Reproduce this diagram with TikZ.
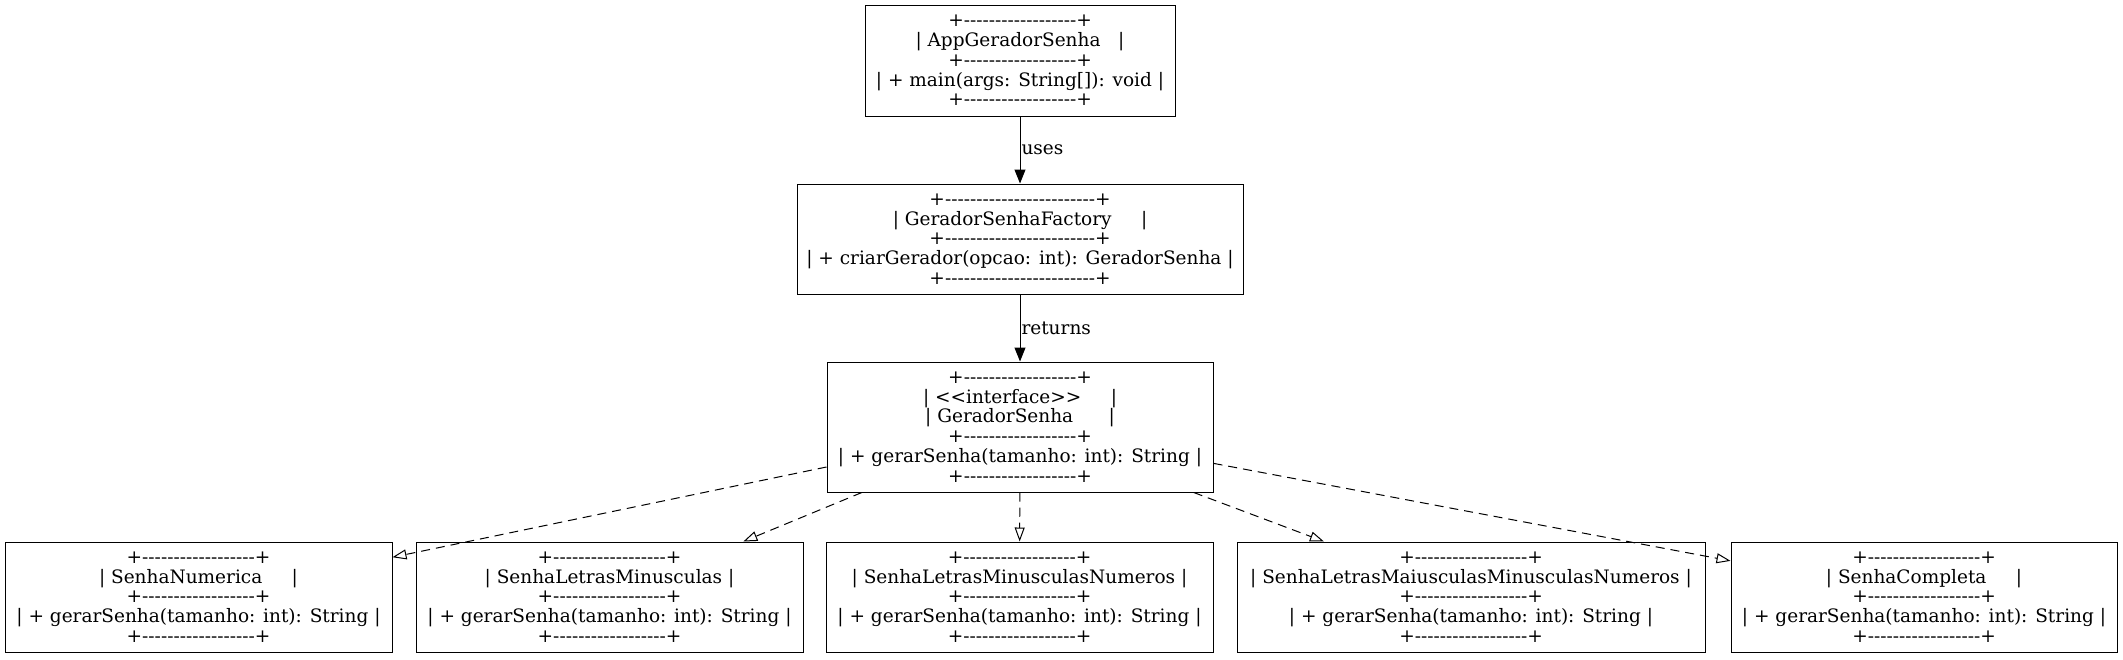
\documentclass[tikz,border=0pt]{standalone}
\usepackage{fontspec}
\setmainfont{DejaVu Serif}[Ligatures=TeXOff]
\usetikzlibrary{arrows.meta}

\begin{document}
\begin{tikzpicture}[
        x=1pt, y=-1pt,
        classbox/.style={rectangle, draw, line width=1pt, align=center, inner sep=0pt, font=\fontsize{18.5}{19.8}\selectfont},
        small/.style={minimum width=387pt, minimum height=110pt},
        uses/.style={-{Triangle[length=14pt, width=11pt]}, line width=1pt},
        realizes/.style={-{Triangle[open, length=14pt, width=10pt]}, line width=1pt, dash pattern=on 9pt off 6pt},
        label/.style={right, inner sep=1pt, font=\fontsize{18.5}{19.8}\selectfont}
    ]
    \useasboundingbox (0,0) rectangle (2123,659);

    % Top: app and factory
    \node[classbox, minimum width=310pt, minimum height=111pt] (app) at (1020, 60.5)
        {+------------------+\\| AppGeradorSenha\ \ \ |\\+------------------+\\| + main(args: String[]): void |\\+------------------+};
    \node[classbox, minimum width=446pt, minimum height=110pt] (factory) at (1020, 239)
        {+------------------------+\\| GeradorSenhaFactory\ \ \ \ \ |\\+------------------------+\\| + criarGerador(opcao: int): GeradorSenha |\\+------------------------+};

    \draw[uses] (app) -- node[label] {uses} (factory);

    % Interface
    \node[classbox, minimum width=386pt, minimum height=130pt] (iface) at (1020, 427)
        {+------------------+\\| <<interface>>\ \ \ \ \ |\\| GeradorSenha\ \ \ \ \ \ |\\+------------------+\\| + gerarSenha(tamanho: int): String |\\+------------------+};

    \draw[uses] (factory) -- node[label] {returns} (iface);

    % Implementations
    \node[classbox, small] (numerica) at (198.5, 597)
        {+------------------+\\| SenhaNumerica\ \ \ \ \ |\\+------------------+\\| + gerarSenha(tamanho: int): String |\\+------------------+};
    \node[classbox, small] (minusculas) at (609.5, 597)
        {+------------------+\\| SenhaLetrasMinusculas |\\+------------------+\\| + gerarSenha(tamanho: int): String |\\+------------------+};
    \node[classbox, small] (minnum) at (1019.5, 597)
        {+------------------+\\| SenhaLetrasMinusculasNumeros |\\+------------------+\\| + gerarSenha(tamanho: int): String |\\+------------------+};
    \node[classbox, minimum width=468pt, minimum height=110pt] (maiminnum) at (1471, 597)
        {+------------------+\\| SenhaLetrasMaiusculasMinusculasNumeros |\\+------------------+\\| + gerarSenha(tamanho: int): String |\\+------------------+};
    \node[classbox, minimum width=386pt, minimum height=110pt] (completa) at (1924, 597)
        {+------------------+\\| SenhaCompleta\ \ \ \ \ |\\+------------------+\\| + gerarSenha(tamanho: int): String |\\+------------------+};

    \foreach \impl in {numerica, minusculas, minnum, maiminnum, completa}
        \draw[realizes] (iface) -- (\impl);

\end{tikzpicture}
\end{document}
